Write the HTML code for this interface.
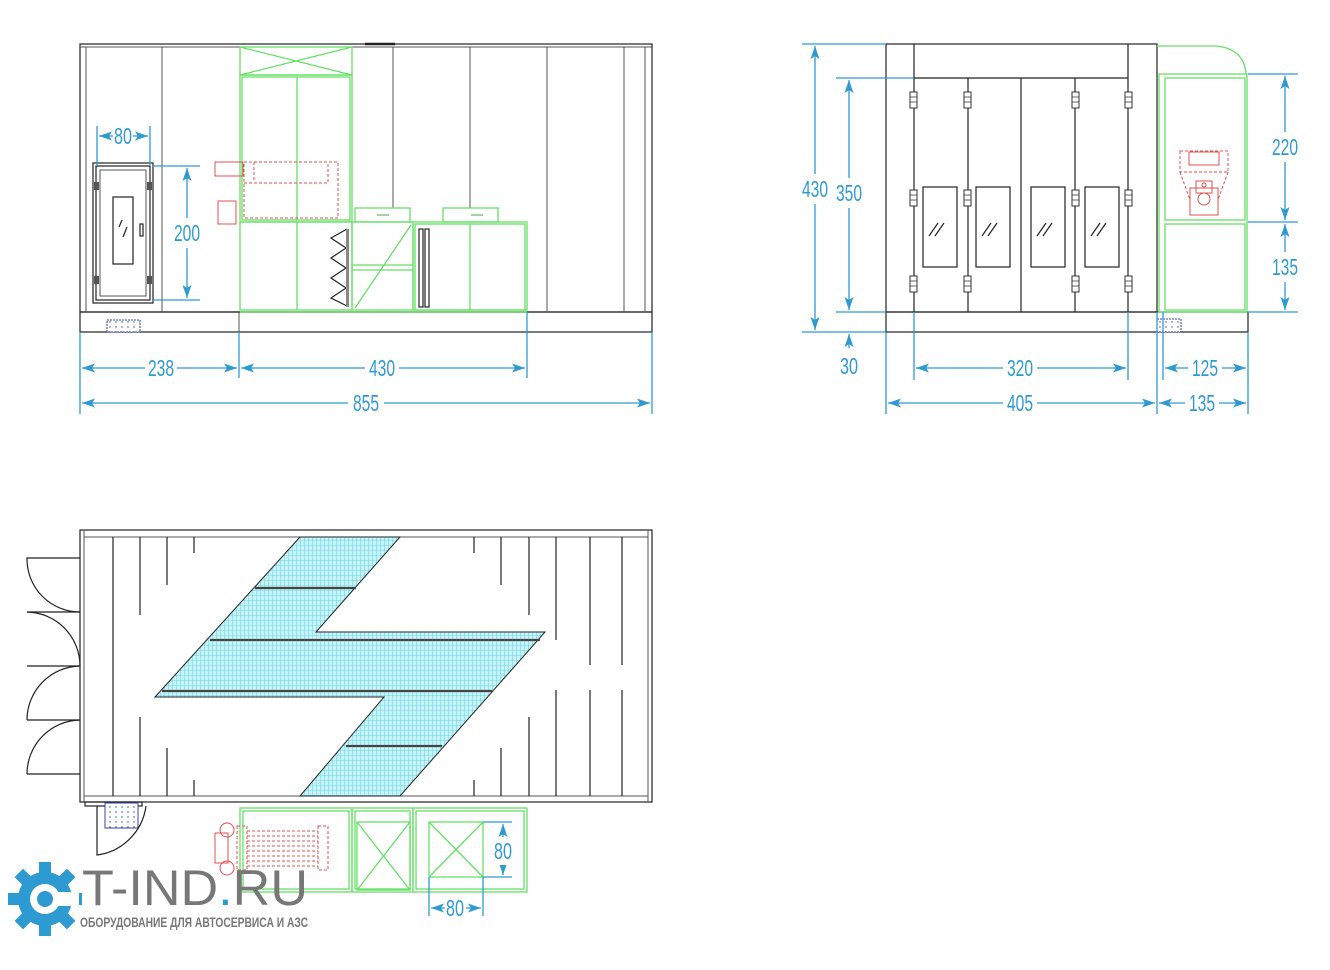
<!DOCTYPE html>
<html><head><meta charset="utf-8"><style>html,body{margin:0;padding:0;background:#fff}svg{display:block}</style></head><body>
<svg width="1330" height="970" viewBox="0 0 1330 970" xmlns="http://www.w3.org/2000/svg">
<defs>
<marker id="a" viewBox="0 0 13 9" refX="13" refY="4.5" markerWidth="13" markerHeight="9" markerUnits="userSpaceOnUse" orient="auto-start-reverse"><path d="M13,4.5 L0,0 L3,4.5 L0,9z" fill="#2e9ad2"/></marker>
<pattern id="g" width="4" height="5" patternUnits="userSpaceOnUse"><rect width="4" height="5" fill="#c8f4f8"/><path d="M0.5,0V5M0,0.5H4" stroke="#6fd8e6" stroke-width="0.6"/></pattern>
<pattern id="d" width="6" height="5" patternUnits="userSpaceOnUse"><rect width="6" height="5" fill="#fff"/><circle cx="2" cy="2" r="0.7" fill="#3344aa"/></pattern>
</defs>
<style>
.k{stroke:#222;fill:none;stroke-width:1.2}
.t{stroke:#555;fill:none;stroke-width:1}
.gr{stroke:#66e066;fill:none;stroke-width:1.3}
.r{stroke:#e05050;fill:none;stroke-width:1}
.rd{stroke:#e05050;fill:none;stroke-width:1;stroke-dasharray:3 2}
.b{stroke:#2e9ad2;fill:none;stroke-width:1.3}
.dm{stroke:#2e9ad2;stroke-width:1.3;fill:none;marker-start:url(#a);marker-end:url(#a)}
text.n{font-family:"Liberation Sans Narrow","Liberation Sans",sans-serif;font-size:23px;fill:#2e9ad2}
</style>

<!-- ===== FRONT VIEW ===== -->
<rect x="80" y="44" width="572" height="268" class="k"/>
<line x1="80" y1="47" x2="652" y2="47" class="t"/>
<line x1="365" y1="44" x2="395" y2="44" stroke="#222" stroke-width="2.5"/>
<rect x="80" y="312" width="572" height="20" class="k"/>
<g class="t">
<line x1="86" y1="47" x2="86" y2="312"/><line x1="162" y1="47" x2="162" y2="312"/>
<line x1="239" y1="312" x2="239" y2="332"/>
<line x1="393" y1="47" x2="393" y2="208"/><line x1="470" y1="47" x2="470" y2="208"/>
<line x1="547" y1="47" x2="547" y2="312"/><line x1="624" y1="47" x2="624" y2="312"/><line x1="645" y1="47" x2="645" y2="312"/>
</g>
<rect x="107" y="320" width="33" height="12" fill="url(#d)" stroke="#3344aa" stroke-dasharray="2 1"/>
<g class="gr">
<rect x="240" y="47" width="112" height="28"/><path d="M240,47 L352,75 M352,47 L240,75"/>
<rect x="240" y="75" width="112" height="147"/><rect x="242" y="77" width="108" height="143"/>
<line x1="297" y1="77" x2="297" y2="220"/>
<rect x="240" y="222" width="112" height="88"/><line x1="297" y1="222" x2="297" y2="310"/>
<rect x="352" y="222" width="61" height="88"/><line x1="352" y1="265" x2="413" y2="265"/><line x1="352" y1="270" x2="413" y2="270"/><line x1="355" y1="308" x2="411" y2="225"/>
<rect x="413" y="222" width="114" height="88"/><rect x="415" y="224" width="110" height="86"/><line x1="470" y1="224" x2="470" y2="310"/>
<rect x="355" y="208" width="55" height="14"/><rect x="443" y="208" width="55" height="14"/>
<line x1="240" y1="312" x2="527" y2="312"/>
</g>
<path d="M377,215h12M471,215h12" stroke="#4a4" stroke-width="1"/>
<rect x="215" y="162" width="28" height="14" class="r"/><rect x="218" y="201" width="18" height="23" class="r"/>
<rect x="244" y="162" width="94" height="56" class="rd"/><path d="M244,183 H328 V162 M254,162 V181" class="rd"/>
<path d="M347,229 L331,238 L346,248 L331,258 L346,268 L331,278 L346,288 L331,298 L347,306" class="k"/>
<rect x="346" y="229" width="3" height="78" fill="#888"/>
<rect x="419" y="229" width="4" height="78" class="k"/><rect x="425" y="229" width="4" height="78" class="k"/>
<rect x="93" y="163" width="60" height="140" class="k"/><rect x="96" y="166" width="54" height="134" class="k"/><rect x="100" y="170" width="46" height="126" class="t"/>
<rect x="113" y="197" width="20" height="67" class="k"/><path d="M119,227l3,-7M123,237l4,-10" class="k"/><rect x="140" y="224" width="3" height="12" class="k"/>
<g fill="#555"><rect x="94" y="182" width="5" height="8"/><rect x="147" y="182" width="5" height="8"/><rect x="94" y="276" width="5" height="8"/><rect x="147" y="276" width="5" height="8"/></g>
<path d="M97,126V166M150,126V166M153,166H200M153,300H200" class="b"/>
<line x1="99" y1="136" x2="148" y2="136" class="dm"/><rect x="113" y="124" width="20" height="24" fill="#fff"/><text class="n" x="114" y="144" textLength="18" lengthAdjust="spacingAndGlyphs">80</text>
<line x1="187" y1="168" x2="187" y2="298" class="dm"/><rect x="173" y="218" width="28" height="30" fill="#fff"/><text class="n" x="174" y="241" textLength="26" lengthAdjust="spacingAndGlyphs">200</text>
<path d="M80,332V414M239,332V378M527,312V378M652,332V414" class="b"/>
<line x1="82" y1="368" x2="237" y2="368" class="dm"/><rect x="145" y="355" width="32" height="26" fill="#fff"/><text class="n" x="148" y="376" textLength="26" lengthAdjust="spacingAndGlyphs">238</text>
<line x1="241" y1="368" x2="525" y2="368" class="dm"/><rect x="365" y="355" width="34" height="26" fill="#fff"/><text class="n" x="369" y="376" textLength="26" lengthAdjust="spacingAndGlyphs">430</text>
<line x1="82" y1="403" x2="650" y2="403" class="dm"/><rect x="348" y="390" width="36" height="26" fill="#fff"/><text class="n" x="353" y="411" textLength="26" lengthAdjust="spacingAndGlyphs">855</text>

<!-- ===== SIDE VIEW ===== -->
<rect x="886" y="44" width="271" height="268" class="k"/>
<line x1="914" y1="78" x2="1128" y2="78" class="k"/>
<g class="k"><line x1="914" y1="44" x2="914" y2="312"/><line x1="968" y1="78" x2="968" y2="312"/><line x1="1021" y1="78" x2="1021" y2="312"/><line x1="1075" y1="78" x2="1075" y2="312"/><line x1="1128" y1="44" x2="1128" y2="312"/></g>
<rect x="886" y="312" width="362" height="20" class="k"/>
<rect x="1157" y="319" width="24" height="13" fill="url(#d)" stroke="#3344aa" stroke-dasharray="2 1"/>
<g class="k">
<rect x="923" y="187" width="34" height="80"/><rect x="976" y="187" width="34" height="80"/><rect x="1031" y="187" width="34" height="80"/><rect x="1085" y="187" width="34" height="80"/>
<path d="M929,236l9,-13M935,236l9,-13M982,236l9,-13M988,236l9,-13M1037,236l9,-13M1043,236l9,-13M1091,236l9,-13M1097,236l9,-13"/>
</g>
<g fill="#fff" stroke="#333" stroke-width="1">
<rect x="910" y="92" width="7" height="16"/><rect x="964" y="92" width="7" height="16"/><rect x="1072" y="92" width="7" height="16"/><rect x="1125" y="92" width="7" height="16"/>
<rect x="910" y="190" width="7" height="16"/><rect x="964" y="190" width="7" height="16"/><rect x="1072" y="190" width="7" height="16"/><rect x="1125" y="190" width="7" height="16"/>
<rect x="910" y="276" width="7" height="16"/><rect x="964" y="276" width="7" height="16"/><rect x="1072" y="276" width="7" height="16"/><rect x="1125" y="276" width="7" height="16"/>
</g>
<g stroke="#333" stroke-width="0.8">
<path d="M910,97h7M910,102h7M964,97h7M964,102h7M1072,97h7M1072,102h7M1125,97h7M1125,102h7"/>
<path d="M910,195h7M910,200h7M964,195h7M964,200h7M1072,195h7M1072,200h7M1125,195h7M1125,200h7"/>
<path d="M910,281h7M910,286h7M964,281h7M964,286h7M1072,281h7M1072,286h7M1125,281h7M1125,286h7"/>
</g>
<g class="gr">
<path d="M1157,46 H1215 Q1244,48 1246,74"/>
<rect x="1159" y="74" width="88" height="238"/>
<rect x="1165" y="78" width="80" height="142"/><rect x="1165" y="224" width="80" height="86"/>
</g>
<rect x="1189" y="152" width="30" height="13" class="r"/><rect x="1180" y="151" width="48" height="21" class="rd"/>
<path d="M1180,172 L1190,200 M1228,172 L1218,200" class="rd"/>
<rect x="1190" y="188" width="28" height="27" class="r"/><rect x="1196" y="181" width="16" height="12" class="r"/><circle cx="1204" cy="199" r="6" class="r"/><circle cx="1204" cy="185" r="2" class="r"/>
<path d="M802,44H886M836,78H914M836,312H886M802,332H886" class="b"/>
<line x1="815" y1="46" x2="815" y2="330" class="dm"/><rect x="801" y="174" width="28" height="30" fill="#fff"/><text class="n" x="802" y="197" textLength="26" lengthAdjust="spacingAndGlyphs">430</text>
<line x1="849" y1="80" x2="849" y2="310" class="dm"/><rect x="835" y="178" width="28" height="30" fill="#fff"/><text class="n" x="836" y="201" textLength="26" lengthAdjust="spacingAndGlyphs">350</text>
<line x1="849" y1="334" x2="849" y2="348" class="dm" style="marker-end:none"/>
<text class="n" x="840" y="374" textLength="18" lengthAdjust="spacingAndGlyphs">30</text>
<path d="M886,332V414M914,312V380M1128,312V380M1157,312V414M1163,312V380M1248,332V414" class="b"/>
<path d="M1248,74H1298M1248,222H1298M1248,312H1298" class="b"/>
<line x1="916" y1="368" x2="1126" y2="368" class="dm"/><rect x="1003" y="355" width="34" height="26" fill="#fff"/><text class="n" x="1007" y="376" textLength="26" lengthAdjust="spacingAndGlyphs">320</text>
<line x1="888" y1="403" x2="1155" y2="403" class="dm"/><rect x="1003" y="390" width="34" height="26" fill="#fff"/><text class="n" x="1007" y="411" textLength="26" lengthAdjust="spacingAndGlyphs">405</text>
<line x1="1165" y1="368" x2="1246" y2="368" class="dm"/><rect x="1188" y="355" width="34" height="26" fill="#fff"/><text class="n" x="1192" y="376" textLength="26" lengthAdjust="spacingAndGlyphs">125</text>
<line x1="1159" y1="403" x2="1246" y2="403" class="dm"/><rect x="1185" y="390" width="34" height="26" fill="#fff"/><text class="n" x="1189" y="411" textLength="26" lengthAdjust="spacingAndGlyphs">135</text>
<line x1="1285" y1="76" x2="1285" y2="220" class="dm"/><rect x="1270" y="132" width="30" height="30" fill="#fff"/><text class="n" x="1272" y="155" textLength="26" lengthAdjust="spacingAndGlyphs">220</text>
<line x1="1285" y1="224" x2="1285" y2="310" class="dm"/><rect x="1270" y="252" width="30" height="30" fill="#fff"/><text class="n" x="1272" y="275" textLength="26" lengthAdjust="spacingAndGlyphs">135</text>

<!-- ===== PLAN VIEW ===== -->
<rect x="80" y="530" width="572" height="272" class="k"/>
<line x1="84" y1="537" x2="648" y2="537" class="t"/><line x1="84" y1="796" x2="648" y2="796" class="t"/>
<line x1="84" y1="530" x2="84" y2="802" class="t"/><line x1="648" y1="530" x2="648" y2="802" class="t"/>
<g class="k">
<path d="M80,558H27A53,53 0 0 0 80,612"/>
<path d="M27,612A54,54 0 0 1 80,666"/>
<path d="M80,666A54,54 0 0 0 27,720"/>
<path d="M80,720A54,54 0 0 0 27,774"/>
<path d="M80,612H27M80,666H27M80,720H27M80,774H27"/>
</g>
<g class="k">
<line x1="113" y1="537" x2="113" y2="796"/>
<line x1="140" y1="537" x2="140" y2="615"/><line x1="140" y1="717" x2="140" y2="796"/>
<line x1="167" y1="537" x2="167" y2="585"/><line x1="167" y1="748" x2="167" y2="796"/>
<line x1="194" y1="537" x2="194" y2="553"/><line x1="194" y1="780" x2="194" y2="796"/>
<line x1="474" y1="537" x2="474" y2="553"/><line x1="474" y1="780" x2="474" y2="796"/>
<line x1="501" y1="537" x2="501" y2="585"/><line x1="501" y1="748" x2="501" y2="796"/>
<line x1="529" y1="537" x2="529" y2="615"/><line x1="529" y1="717" x2="529" y2="796"/>
<line x1="556" y1="537" x2="556" y2="640"/><line x1="556" y1="690" x2="556" y2="796"/>
<line x1="590" y1="537" x2="590" y2="665"/><line x1="590" y1="690" x2="590" y2="796"/>
<line x1="622" y1="537" x2="622" y2="665"/><line x1="622" y1="690" x2="622" y2="796"/>
</g>
<polygon points="300,537 400,537 316,632 545,632 400,796 300,796 384,697 155,697" fill="url(#g)" stroke="#222" stroke-width="1"/>
<g stroke="#444" stroke-width="2.2">
<line x1="255" y1="588" x2="356" y2="588"/><line x1="210" y1="640" x2="540" y2="640"/><line x1="162" y1="691" x2="492" y2="691"/><line x1="346" y1="746" x2="442" y2="746"/>
</g>
<rect x="85" y="802" width="57" height="4" class="k"/>
<rect x="105" y="803" width="33" height="25" fill="url(#d)" stroke="#3344aa"/>
<path d="M97,806V855A57,57 0 0 0 146,806" class="k"/>
<g class="gr">
<rect x="240" y="808" width="112" height="84"/><rect x="243" y="811" width="106" height="78"/>
<rect x="352" y="808" width="61" height="84"/><rect x="355" y="811" width="55" height="78"/>
<rect x="357" y="822" width="53" height="68"/><path d="M357,822L410,890M410,822L357,890"/>
<rect x="413" y="808" width="114" height="84"/><rect x="416" y="811" width="108" height="78"/>
<rect x="429" y="822" width="54" height="55"/><path d="M429,822L483,877M483,822L429,877"/>
</g>
<rect x="215" y="833" width="13" height="30" class="r"/><circle cx="227" cy="830" r="7" class="r"/><circle cx="227" cy="868" r="7" class="r"/>
<rect x="237" y="826" width="10" height="44" class="rd"/><rect x="318" y="826" width="10" height="44" class="rd"/>
<g class="rd" stroke-width="0.8"><path d="M247,831H318M247,836H318M247,841H318M247,846H318M247,851H318M247,856H318M247,861H318M247,866H318"/></g>
<path d="M483,822H512M483,877H512M429,877V916M483,877V916" class="b"/>
<line x1="503" y1="824" x2="503" y2="875" class="dm"/><rect x="492" y="837" width="22" height="28" fill="#fff"/><text class="n" x="494" y="859" textLength="18" lengthAdjust="spacingAndGlyphs">80</text>
<line x1="431" y1="908" x2="481" y2="908" class="dm"/><rect x="445" y="896" width="21" height="24" fill="#fff"/><text class="n" x="446" y="916" textLength="18" lengthAdjust="spacingAndGlyphs">80</text>

<!-- ===== LOGO ===== -->
<g fill="#2e9ad2" transform="translate(45,899)">
<g id="t"><rect x="-6" y="-37" width="12" height="12"/></g>
<use href="#t" transform="rotate(45)"/><use href="#t" transform="rotate(90)"/><use href="#t" transform="rotate(135)"/><use href="#t" transform="rotate(180)"/><use href="#t" transform="rotate(225)"/><use href="#t" transform="rotate(270)"/><use href="#t" transform="rotate(315)"/>
<circle r="27"/>
<circle r="15" fill="#fff"/>
<rect x="2" y="-7" width="32" height="14" fill="#fff"/>
<circle r="8"/>
</g>
<text x="82" y="905" font-family="'Liberation Sans',sans-serif" font-size="50" fill="#777" textLength="226" lengthAdjust="spacingAndGlyphs">T-IND<tspan fill="#2e9ad2">.</tspan>RU</text>
<text x="80" y="927" font-family="'Liberation Sans','Noto Sans CJK SC',sans-serif" font-weight="bold" font-size="14" fill="#777" textLength="228" lengthAdjust="spacingAndGlyphs">ОБОРУДОВАНИЕ ДЛЯ АВТОСЕРВИСА И АЗС</text>
</svg>
</body></html>
